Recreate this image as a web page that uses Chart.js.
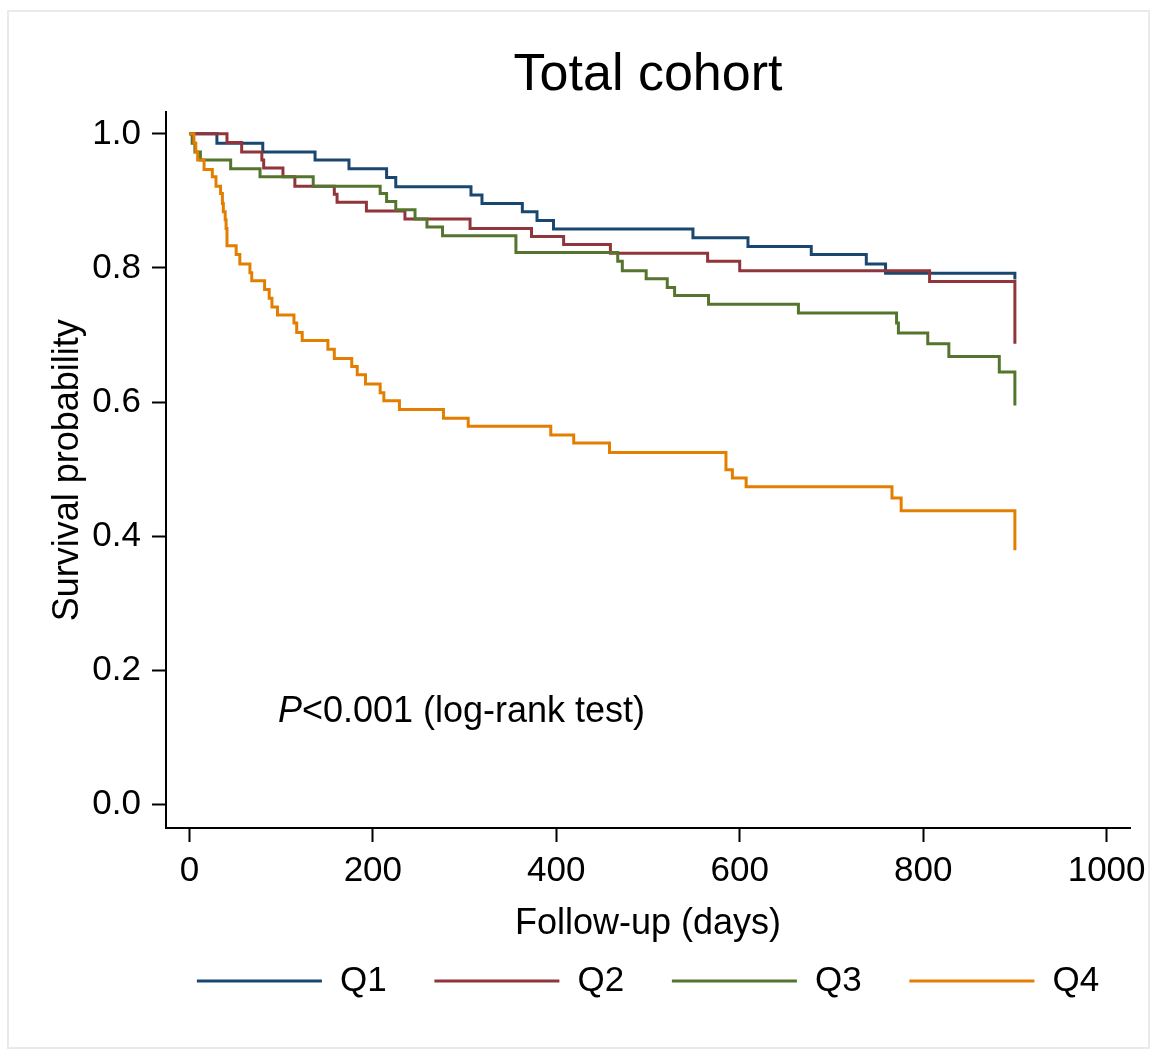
<!DOCTYPE html>
<html>
<head>
<meta charset="utf-8">
<title>Total cohort</title>
<script src="https://cdn.jsdelivr.net/npm/chart.js@4.4.1/dist/chart.umd.min.js"></script>
<style>
  html, body { margin: 0; padding: 0; background: #fff; }
  #wrap { width: 1157px; height: 1056px; }
</style>
</head>
<body>
<div id="wrap"><canvas id="km" width="1157" height="1056"></canvas></div>
<script>
// Courbes de Kaplan-Meier
const groupLabels = ['Q1', 'Q2', 'Q3', 'Q4'];
const groupColors = ['#1a476f', '#90353b', '#55752f', '#e37e00'];

const q1Days = [0, 30, 80, 137, 174, 215, 225, 307, 319, 363, 379, 397, 549, 609, 678, 738, 759, 900];
const q1Surv = [1.0, 0.986, 0.973, 0.961, 0.948, 0.935, 0.921, 0.909, 0.896, 0.884, 0.871, 0.858, 0.845, 0.832, 0.820, 0.806, 0.792, 0.783];

const q2Days = [0, 41, 57, 79, 81, 102, 115, 158, 161, 193, 235, 306, 373, 408, 459, 565, 600, 807, 900];
const q2Surv = [1.0, 0.987, 0.973, 0.961, 0.949, 0.936, 0.922, 0.910, 0.898, 0.885, 0.873, 0.859, 0.847, 0.835, 0.822, 0.810, 0.796, 0.780, 0.687];

const q3Days = [0, 3, 6, 12, 45, 77, 135, 208, 215, 225, 246, 259, 276, 356, 467, 472, 498, 521, 529, 566, 664, 771, 773, 805, 828, 883, 900];
const q3Surv = [1.0, 0.986, 0.973, 0.961, 0.948, 0.936, 0.922, 0.911, 0.899, 0.887, 0.873, 0.861, 0.848, 0.823, 0.810, 0.796, 0.784, 0.771, 0.759, 0.746, 0.733, 0.718, 0.703, 0.687, 0.668, 0.645, 0.595];

const q4Days = [0, 5, 7, 9, 16, 25, 29, 34, 36, 37, 39, 40, 41, 51, 55, 66, 68, 82, 87, 90, 96, 114, 117, 123, 151, 158, 177, 183, 192, 208, 212, 229, 277, 304, 394, 419, 458, 585, 592, 607, 766, 776, 900];
const q4Surv = [1.0, 0.986, 0.973, 0.961, 0.947, 0.936, 0.922, 0.911, 0.896, 0.884, 0.872, 0.859, 0.833, 0.820, 0.806, 0.793, 0.781, 0.768, 0.755, 0.742, 0.730, 0.718, 0.704, 0.692, 0.679, 0.665, 0.653, 0.641, 0.627, 0.614, 0.602, 0.589, 0.576, 0.564, 0.551, 0.539, 0.525, 0.499, 0.487, 0.474, 0.457, 0.438, 0.379];

const xTicks = [0, 200, 400, 600, 800, 1000];
const yTicks = [0, 0.2, 0.4, 0.6, 0.8, 1.0];

// Annotation du test
const pLabel = 'P';
const pRest = '<0.001 (log-rank test)';
const pAtDay = 96.5;
const pAtSurv = 0.123;

const FONT = "'Liberation Sans', Arial, Helvetica, sans-serif";
Chart.defaults.font.family = FONT;
Chart.defaults.color = '#000';

const series = [[q1Days, q1Surv], [q2Days, q2Surv], [q3Days, q3Surv], [q4Days, q4Surv]];

const datasets = series.map(([days, surv], i) => ({
  label: groupLabels[i],
  data: days.map((t, k) => ({ x: t, y: surv[k] })),
  borderColor: groupColors[i],
  backgroundColor: groupColors[i],
  borderWidth: 3,
  stepped: 'before',
  pointRadius: 0,
  fill: false,
  order: series.length - i   // Q4 dessiné en dernier
}));

// cadre gris clair autour de la figure
const framePlugin = {
  id: 'frame',
  beforeDraw(chart) {
    const ctx = chart.ctx;
    ctx.save();
    ctx.strokeStyle = '#e7ecea';
    ctx.lineWidth = 2;
    ctx.strokeRect(8, 11, 1141, 1037);
    ctx.restore();
  }
};

// texte "P<0.001 (log-rank test)"
const pValuePlugin = {
  id: 'pvalue',
  afterDatasetsDraw(chart) {
    const { ctx, scales: { x, y } } = chart;
    const px = x.getPixelForValue(pAtDay);
    const py = y.getPixelForValue(pAtSurv);
    ctx.save();
    ctx.fillStyle = '#000';
    ctx.textBaseline = 'alphabetic';
    ctx.textAlign = 'left';
    ctx.font = 'italic 36px ' + FONT;
    ctx.fillText(pLabel, px, py);
    const w = ctx.measureText(pLabel).width;
    ctx.font = '36px ' + FONT;
    ctx.fillText(pRest, px + w, py);
    ctx.restore();
  }
};

// légende en bas, centrée sous la zone du graphique
const kmLegendPlugin = {
  id: 'kmLegend',
  afterDraw(chart) {
    const { ctx, chartArea } = chart;
    const lineLen = 125, gap = 18, step = 237.5, yLine = 981;
    const sets = chart.data.datasets;
    ctx.save();
    ctx.font = '35px ' + FONT;
    const lastW = ctx.measureText(sets[sets.length - 1].label).width;
    const total = step * (sets.length - 1) + lineLen + gap + lastW;
    let x0 = (chartArea.left + chartArea.right) / 2 - total / 2;
    sets.forEach((ds, i) => {
      const xs = x0 + i * step;
      ctx.strokeStyle = ds.borderColor;
      ctx.lineWidth = 3;
      ctx.beginPath();
      ctx.moveTo(xs, yLine);
      ctx.lineTo(xs + lineLen, yLine);
      ctx.stroke();
      ctx.fillStyle = '#000';
      ctx.textBaseline = 'middle';
      ctx.fillText(ds.label, xs + lineLen + gap, yLine + 0.5);
    });
    ctx.restore();
  }
};

const axisGrid = {
  display: true,
  drawOnChartArea: false,
  drawTicks: true,
  tickLength: 14,
  tickWidth: 2,
  tickColor: '#000'
};
const axisBorder = { display: true, color: '#000', width: 2 };

new Chart(document.getElementById('km'), {
  type: 'line',
  data: { datasets },
  options: {
    responsive: false,
    animation: false,
    devicePixelRatio: 1,
    layout: { padding: { left: 0, right: 27, top: 0, bottom: 104 } },
    plugins: {
      legend: { display: false },
      tooltip: { enabled: false },
      title: {
        display: true,
        text: 'Total cohort',
        fullSize: false,
        color: '#000',
        font: { size: 52, weight: 'normal' },
        padding: { top: 44, bottom: 6 }
      }
    },
    scales: {
      x: {
        type: 'linear',
        min: -25.5,
        max: 1025.5,
        afterBuildTicks: (scale) => { scale.ticks = xTicks.map(v => ({ value: v })); },
        afterFit: (scale) => { scale.height = 124; },
        grid: axisGrid,
        border: axisBorder,
        ticks: {
          autoSkip: false,
          maxRotation: 0,
          padding: 8,
          font: { size: 35 },
          callback: (v) => String(v)
        },
        title: {
          display: true,
          text: 'Follow-up (days)',
          font: { size: 36 },
          padding: { top: 0, bottom: 6 }
        }
      },
      y: {
        type: 'linear',
        min: -0.035,
        max: 1.032,
        afterBuildTicks: (scale) => { scale.ticks = yTicks.map(v => ({ value: v })); },
        afterFit: (scale) => { scale.width = 166; },
        grid: axisGrid,
        border: axisBorder,
        ticks: {
          autoSkip: false,
          padding: 11,
          font: { size: 35 },
          callback: (v) => Number(v).toFixed(1)
        },
        title: {
          display: true,
          text: 'Survival probability',
          font: { size: 36 },
          padding: { top: 46, bottom: 0 }
        }
      }
    }
  },
  plugins: [framePlugin, pValuePlugin, kmLegendPlugin]
});
</script>
</body>
</html>
